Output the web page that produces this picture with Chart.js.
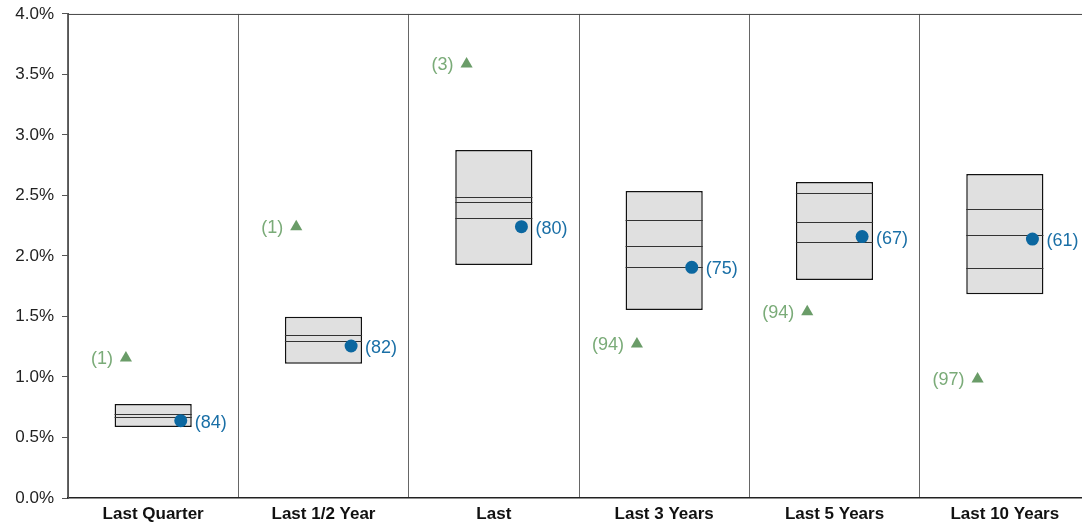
<!DOCTYPE html>
<html>
<head>
<meta charset="utf-8">
<script src="https://cdn.jsdelivr.net/npm/chart.js@4.4.1/dist/chart.umd.min.js"></script>
<style>
  html, body { margin: 0; padding: 0; background: #fff; overflow: hidden; }
  #wrap { width: 1097px; height: 524px; }
</style>
</head>
<body>
<div id="wrap"><canvas id="myChart" width="1097" height="524"></canvas></div>
<script>
// データ
const categories = ['Last Quarter', 'Last 1/2 Year', 'Last', 'Last 3 Years', 'Last 5 Years', 'Last 10 Years'];
const boxLow = [0.587, 1.110, 1.926, 1.554, 1.802, 1.683];
const boxHigh = [0.777, 1.498, 2.876, 2.537, 2.612, 2.678];
const innerLines = [
    [0.692, 0.672],
    [1.347, 1.298],
    [2.490, 2.449, 2.311],
    [2.295, 2.085, 1.906],
    [2.523, 2.278, 2.116],
    [2.388, 2.171, 1.898]
];
const dotValues = [0.639, 1.256, 2.242, 1.906, 2.160, 2.140];
const dotLabels = ['(84)', '(82)', '(80)', '(75)', '(67)', '(61)'];
const triValues = [1.157, 2.242, 3.587, 1.273, 1.540, 0.983];
const triLabels = ['(1)', '(1)', '(3)', '(94)', '(94)', '(97)'];
const yTicks = [0, 0.5, 1, 1.5, 2, 2.5, 3, 3.5, 4];

const FONT = "'Liberation Sans', Arial, sans-serif";
const DOT_COLOR = '#0b67a0';
const TRI_COLOR = '#6a9c68';

// 箱の中の線（箱の直後、点より下に描く）
const innerLinePlugin = {
    id: 'innerLines',
    afterDatasetDraw(chart, args) {
        if (args.index !== 0) return;
        const ctx = chart.ctx;
        const y = chart.scales.y;
        ctx.save();
        args.meta.data.forEach((bar, i) => {
            const half = bar.width / 2;
            innerLines[i].forEach(v => {
                const py = Math.round(y.getPixelForValue(v)) + 0.5;
                ctx.strokeStyle = '#333';
                ctx.lineWidth = 1;
                ctx.beginPath();
                ctx.moveTo(bar.x - half, py);
                ctx.lineTo(bar.x + half, py);
                ctx.stroke();
            });
        });
        ctx.restore();
    },
    afterDraw(chart) {
        // 上端の線
        const ctx = chart.ctx;
        const a = chart.chartArea;
        ctx.save();
        ctx.strokeStyle = '#444';
        ctx.lineWidth = 1;
        ctx.beginPath();
        ctx.moveTo(a.left, a.top + 0.5);
        ctx.lineTo(a.right, a.top + 0.5);
        ctx.stroke();
        ctx.restore();
    }
};

// 点のラベル
const pointLabelPlugin = {
    id: 'pointLabels',
    afterDraw(chart) {
        const ctx = chart.ctx;
        ctx.save();
        ctx.font = '18px ' + FONT;
        ctx.textBaseline = 'middle';
        chart.getDatasetMeta(1).data.forEach((p, i) => {
            ctx.fillStyle = '#1a6fa6';
            ctx.textAlign = 'left';
            ctx.fillText(dotLabels[i], p.x + 14, p.y + 2);
        });
        chart.getDatasetMeta(2).data.forEach((p, i) => {
            ctx.fillStyle = '#7aab78';
            ctx.textAlign = 'right';
            ctx.fillText(triLabels[i], p.x - 13, p.y + 1);
        });
        ctx.restore();
    }
};

const ctx = document.getElementById('myChart').getContext('2d');
const myChart = new Chart(ctx, {
    data: {
        labels: categories,
        datasets: [
            {
                type: 'bar',
                data: boxLow.map((lo, i) => [lo, boxHigh[i]]),
                backgroundColor: '#e0e0e0',
                borderColor: '#111',
                borderWidth: 1.5,
                borderSkipped: false,
                grouped: false,
                barPercentage: 0.453,
                categoryPercentage: 1,
                order: 10,
                xAxisID: 'x'
            },
            {
                type: 'scatter',
                data: dotValues.map((v, i) => ({ x: i + 0.162, y: v })),
                pointStyle: 'circle',
                pointRadius: 6.5,
                backgroundColor: DOT_COLOR,
                borderColor: DOT_COLOR,
                borderWidth: 0,
                order: 1,
                xAxisID: 'xp'
            },
            {
                type: 'scatter',
                data: triValues.map((v, i) => ({ x: i - 0.16, y: v })),
                pointStyle: 'triangle',
                pointRadius: 7,
                backgroundColor: TRI_COLOR,
                borderColor: TRI_COLOR,
                borderWidth: 0,
                order: 2,
                xAxisID: 'xp'
            }
        ]
    },
    options: {
        responsive: false,
        animation: false,
        layout: { padding: { top: 0, right: 1, left: 0, bottom: 0 } },
        plugins: {
            legend: { display: false },
            tooltip: { enabled: false }
        },
        scales: {
            x: {
                type: 'category',
                offset: true,
                grid: { offset: true, color: '#666', lineWidth: 1, drawTicks: false },
                border: { display: true, color: '#222', width: 1.5 },
                ticks: {
                    color: '#111',
                    font: { family: FONT, size: 17, weight: 'bold' },
                    padding: 6,
                    maxRotation: 0
                },
                afterFit(scale) { scale.height = 26; }
            },
            xp: {
                type: 'linear',
                min: -0.5,
                max: 5.5,
                display: false
            },
            y: {
                min: 0,
                max: 4,
                afterBuildTicks(scale) { scale.ticks = yTicks.map(v => ({ value: v })); },
                ticks: {
                    color: '#222',
                    font: { family: FONT, size: 17, lineHeight: 0.7 },
                    padding: 8,
                    callback: v => v.toFixed(1) + '%'
                },
                grid: { drawOnChartArea: false, drawTicks: true, tickLength: 6, color: '#555' },
                border: { display: true, color: '#555', width: 1 },
                afterFit(scale) { scale.width = 68; }
            }
        }
    },
    plugins: [innerLinePlugin, pointLabelPlugin]
});
</script>
</body>
</html>
